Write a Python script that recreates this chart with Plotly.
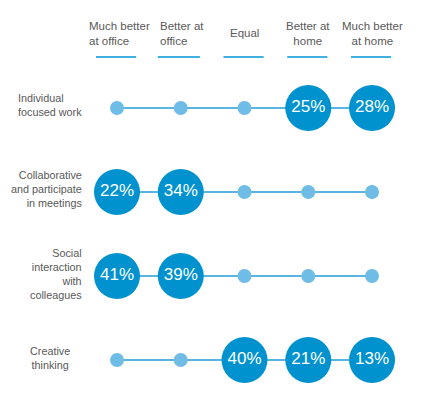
import plotly.graph_objects as go

columns = ["Much better<br>at office", "Better at<br>office", "Equal", "Better at<br>home", "Much better<br>at home"]
rows = ["Individual<br>focused work", "Collaborative<br>and participate<br>in meetings",
        "Social<br>interaction<br>with<br>colleagues", "Creative<br>thinking"]
individual = [None, None, None, 25, 28]
collaborative = [22, 34, None, None, None]
social = [41, 39, None, None, None]
creative = [None, None, 40, 21, 13]
series = [individual, collaborative, social, creative]

BIG = "#0092cf"
SMALL = "#6fbde6"
LINE = "#5ab4e0"
GREY = "#595959"
FONT = "Liberation Sans, Arial, sans-serif"

fig = go.Figure()
xs = list(range(len(columns)))
for j, vals in enumerate(series):
    fig.add_trace(go.Scatter(x=xs, y=[j] * len(xs), mode="lines",
                             line=dict(color=LINE, width=2), hoverinfo="skip", showlegend=False))
    fig.add_trace(go.Scatter(
        x=xs, y=[j] * len(xs), mode="markers+text",
        marker=dict(size=[46 if v is not None else 14 for v in vals],
                    color=[BIG if v is not None else SMALL for v in vals],
                    opacity=1, line=dict(width=0)),
        text=[f"{v}%" if v is not None else "" for v in vals],
        textposition="middle center",
        textfont=dict(color="white", size=17, family=FONT),
        showlegend=False, hoverinfo="skip"))

# header labels
header_align = ["left", "left", "center", "center", "center"]
header_x = [-0.47, -0.36, 0, 0, 0]
for i, c in enumerate(columns):
    fig.add_annotation(x=i + header_x[i], y=-0.89, text=c, showarrow=False,
                       xanchor=header_align[i] if header_align[i] == "left" else "center",
                       align=header_align[i],
                       font=dict(size=11.5, color=GREY, family=FONT))
    fig.add_shape(type="line", x0=i - 0.33 + (0.0 if i != 1 else -0.03), x1=i + 0.3, y0=-0.607, y1=-0.607,
                  line=dict(color="#0096d6", width=1.3))

# row labels
row_x = [-1.584, -0.52, -0.52, -1.051]
row_anchor = ["left", "right", "right", "center"]
row_dy = [-0.03, -0.035, -0.025, -0.03]
for j, r in enumerate(rows):
    fig.add_annotation(x=row_x[j], y=j + row_dy[j], text=r, showarrow=False,
                       xanchor=row_anchor[j], align=row_anchor[j],
                       font=dict(size=10.8, color=GREY, family=FONT))

# page body has an 8px margin; shift the plotting window to compensate
fig.update_layout(
    width=414, height=390, margin=dict(l=0, r=0, t=0, b=0),
    paper_bgcolor="white", plot_bgcolor="white",
    xaxis=dict(range=[-1.7098, 4.784], visible=False, fixedrange=True),
    yaxis=dict(range=[3.452, -1.1905], visible=False, fixedrange=True),
)
fig.write_html("out.html", config={"displayModeBar": False})
